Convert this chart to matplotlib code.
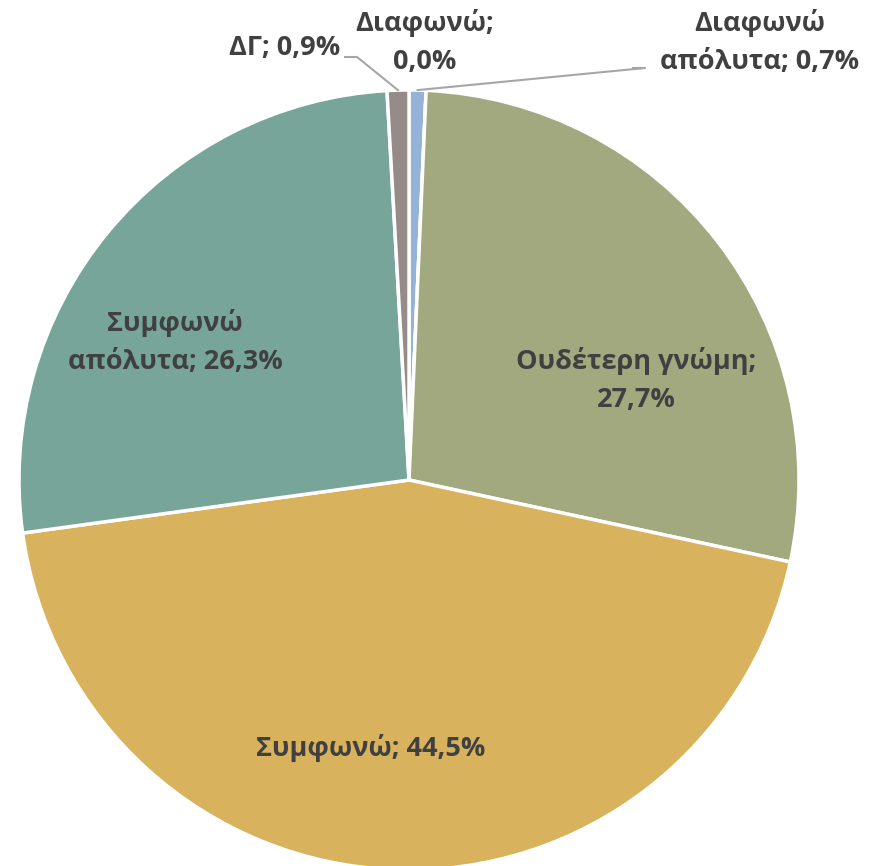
import numpy as np
import matplotlib.pyplot as plt

# -------------------------------
# Data (clockwise from 12 o'clock)
# -------------------------------
categories = ['Διαφωνώ απόλυτα', 'Διαφωνώ', 'Ουδέτερη γνώμη', 'Συμφωνώ',
              'Συμφωνώ απόλυτα', 'ΔΓ']
shares = [0.7, 0.0, 27.7, 44.5, 26.3, 0.9]
label_text = ['Διαφωνώ\nαπόλυτα; {}', 'Διαφωνώ;\n{}', 'Ουδέτερη γνώμη;\n{}',
              'Συμφωνώ; {}', 'Συμφωνώ\nαπόλυτα; {}', 'ΔΓ; {}']
colors = ['#95B3D7', '#B9CDE5', '#A3A97F', '#D8B25C', '#78A59A', '#958B88']

# label centres in pixel coords (y from top)
label_pos = [(760, 42), (425, 42), (636, 380), (371, 748), (175, 342), (285, 48)]
# leader lines: start of the short horizontal bit, its end (pixels, y from top)
leaders = {0: [(633, 68), (645, 68)], 5: [(345, 57), (357, 57)]}

W, H = 885, 866
cx, cy, R = 409, 480, 390

fig = plt.figure(figsize=(W / 100, H / 100), dpi=100)
ax = fig.add_axes([0, 0, 1, 1])

wedges, _ = ax.pie(shares, colors=colors, startangle=90, counterclock=False,
                   center=(cx, H - cy), radius=R,
                   wedgeprops=dict(edgecolor='white', linewidth=2.5))
ax.set_xlim(0, W)
ax.set_ylim(0, H)
ax.set_aspect('equal')
ax.axis('off')

for i, w in enumerate(wedges):
    txt = label_text[i].format(f'{shares[i]:.1f}%'.replace('.', ','))
    lx, ly = label_pos[i]
    ax.text(lx, H - ly, txt, ha='center', va='center', fontsize=19.5,
            fontweight='bold', color='#404040', family=['Open Sans', 'DejaVu Sans'],
            linespacing=1.6)
    if i in leaders:
        ang = np.deg2rad((w.theta1 + w.theta2) / 2)
        ex, ey = cx + R * np.cos(ang), (H - cy) + R * np.sin(ang)
        xs = [p[0] for p in leaders[i]] + [ex]
        ys = [H - p[1] for p in leaders[i]] + [ey]
        ax.plot(xs, ys, color='#A6A6A6', lw=1.5)

fig.savefig('out.png', dpi=100)
